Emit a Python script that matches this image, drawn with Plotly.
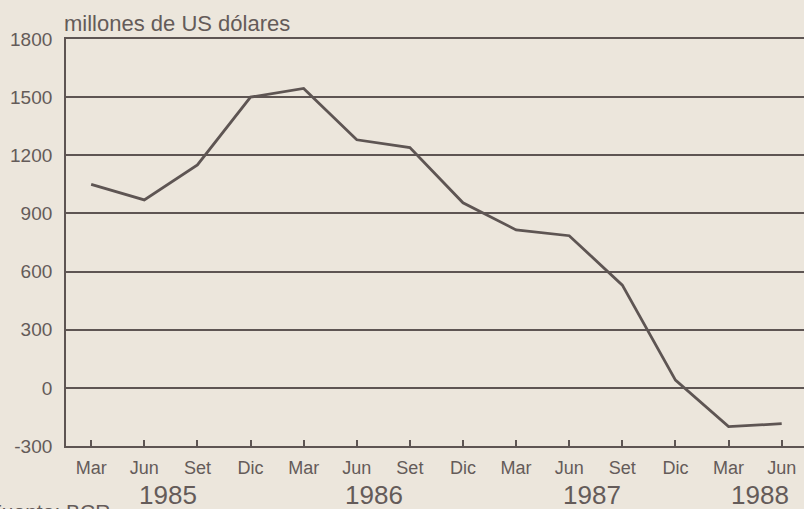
import plotly.graph_objects as go

# Quarterly series, March 1985 - June 1988 (millions of US dollars)
quarters = ["Mar", "Jun", "Set", "Dic", "Mar", "Jun", "Set", "Dic",
            "Mar", "Jun", "Set", "Dic", "Mar", "Jun"]
values = [1050, 970, 1150, 1500, 1545, 1280, 1240, 955,
          815, 785, 530, 40, -200, -185]
years = ["1985", "1986", "1987", "1988"]
year_pos = [1.45, 5.33, 9.43, 12.59]
y_ticks = [-300, 0, 300, 600, 900, 1200, 1500, 1800]

INK = "#5e5553"
TEXT = "#645b59"
PAPER = "#ece6dc"
FONT = "Liberation Sans, Arial, sans-serif"

idx = list(range(len(values)))

fig = go.Figure()
fig.add_trace(go.Scatter(
    x=idx, y=values, mode="lines",
    line=dict(color=INK, width=2.8),
    hoverinfo="skip", showlegend=False,
))

fig.update_layout(
    width=804, height=509,
    margin=dict(l=65.5, r=0, t=39.3, b=63),
    paper_bgcolor=PAPER, plot_bgcolor=PAPER,
    font=dict(family=FONT, color=TEXT),
    xaxis=dict(
        range=[-0.474, 13.42],
        tickmode="array", tickvals=idx, ticktext=quarters,
        ticks="inside", ticklen=6, tickwidth=1.5, tickcolor=INK,
        tickfont=dict(size=18, color=TEXT),
        ticklabelstandoff=4,
        showgrid=False, zeroline=False,
        showline=True, linecolor=INK, linewidth=1.8, mirror=True,
    ),
    yaxis=dict(
        range=[-300, 1800],
        tickmode="array", tickvals=y_ticks,
        ticktext=[str(v) for v in y_ticks],
        tickfont=dict(size=19, color=TEXT),
        ticks="", ticklabelstandoff=8,
        showgrid=True, gridcolor=INK, gridwidth=1.5,
        zeroline=True, zerolinecolor=INK, zerolinewidth=1.5,
        showline=True, linecolor=INK, linewidth=1.8,
    ),
)

# Unit label above the value axis
fig.add_annotation(
    text="millones de US dólares", xref="paper", yref="paper",
    x=-0.006, y=1.0, xanchor="left", yanchor="bottom", yshift=1,
    showarrow=False, font=dict(size=22, color=TEXT, family=FONT),
)

# Year labels below the quarter labels
for yr, xp in zip(years, year_pos):
    fig.add_annotation(
        text=yr, x=xp, xref="x", y=0, yref="paper",
        xanchor="center", yanchor="middle", yshift=-49,
        showarrow=False, font=dict(size=26, color=TEXT, family=FONT),
    )

# Source note at the lower left, running off the page edge
fig.add_annotation(
    text="Fuente: BCR", xref="paper", yref="paper",
    x=0.063, y=0, xanchor="right", yanchor="top", yshift=-52,
    showarrow=False, font=dict(size=21, color=TEXT, family=FONT),
)

fig.write_html("out.html")
